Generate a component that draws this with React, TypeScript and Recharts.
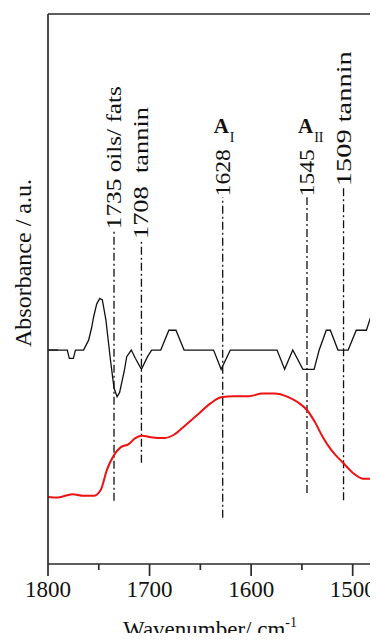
import React from "react";
import {
  LineChart, Line, XAxis, YAxis, ReferenceLine, ReferenceDot,
} from "recharts";

// Spectra (wavenumber cm-1, absorbance in a.u.)
const derivWn = [1800, 1781, 1779, 1775, 1773, 1765, 1760, 1757, 1755, 1752, 1749, 1746.5, 1743, 1738.5, 1735, 1732, 1729.5, 1725, 1722.5, 1718, 1714, 1708, 1702, 1698, 1689, 1681, 1674, 1666, 1637, 1629.5, 1620.5, 1574.5, 1567, 1559, 1549, 1538, 1533, 1526, 1522, 1514.5, 1504.5, 1496.5, 1486.5, 1480];
const derivAbs = [38.9, 38.9, 37.4, 37.4, 38.9, 38.9, 40.7, 43.0, 45.0, 47.3, 48.3, 48.0, 44.4, 37.1, 32.0, 30.4, 31.2, 35.0, 37.7, 38.9, 37.4, 35.4, 37.7, 38.9, 38.9, 42.5, 42.5, 38.9, 38.9, 35.4, 38.9, 38.9, 35.4, 38.9, 35.4, 35.4, 38.9, 42.5, 42.5, 38.9, 38.9, 42.5, 42.5, 46.2];

const specWn = [1800, 1790, 1776, 1765, 1755, 1748, 1742, 1735, 1728.5, 1720.5, 1714, 1707, 1697, 1686, 1676, 1666, 1653, 1640, 1629.5, 1617, 1602, 1589, 1577, 1564, 1554, 1545, 1537.5, 1529.5, 1521, 1509.5, 1500, 1490, 1480];
const specAbs = [12.2, 12.1, 12.7, 12.4, 12.4, 13.5, 17.1, 19.8, 21.2, 21.8, 22.9, 23.3, 23.0, 22.9, 23.5, 25.0, 27.1, 29.2, 30.3, 30.5, 30.5, 31.0, 31.0, 30.4, 29.4, 28.0, 25.9, 23.1, 20.7, 18.4, 16.6, 15.5, 15.5];

// Band markers
const markerWn = [1735, 1708, 1628, 1545, 1509];
const markerTop = [60.7, 58.9, 66.7, 66.7, 68.5];
const markerBottom = [11.5, 18.4, 8.4, 12.9, 11.6];
const markerText = ["1735 oils/ fats", "1708  tannin", "1628", "1545", "1509 tannin"];
const amideWn = [1628, 1545];
const amideSub = ["I", "II"];

const xDomain = [1480, 1800];
const yDomain = [0, 100];
const xTicks = [1800, 1750, 1700, 1650, 1600, 1550, 1500];
const majorTicks = [1800, 1700, 1600, 1500];
const yTicks = [38.9];

// rendered length (px) of the rotated band labels
const labelLen = [143, 132, 47, 47, 135];

const deriv = derivWn.map((w, i) => ({ w, a: derivAbs[i] }));
const spec = specWn.map((w, i) => ({ w, a: specAbs[i] }));
// top + right edges of the plot box
const frame = [
  { w: xDomain[1], a: yDomain[1] },
  { w: xDomain[0], a: yDomain[1] },
  { w: xDomain[0], a: yDomain[0] },
];

const FONT = "Liberation Serif, Times New Roman, serif";
const AXIS = "#2a2a2a";

function XTick(p: any) {
  const { x, y, payload } = p;
  const major = majorTicks.includes(payload.value);
  return (
    <g>
      <line x1={x} x2={x} y1={y} y2={y + (major ? 12 : 6)} stroke={AXIS} strokeWidth={1.7} />
      {major && (
        <text x={x} y={y + 33} textAnchor="middle" style={{ fontFamily: FONT }} fontSize={23} fill="#111">
          {payload.value}
        </text>
      )}
    </g>
  );
}

function YTick(p: any) {
  const { x, y } = p;
  return <line x1={x} x2={x + 10} y1={y} y2={y} stroke={AXIS} strokeWidth={1.7} />;
}

function markerLabel(i: number) {
  return (p: any) => {
    const { cx, cy } = p;
    return (
      <g transform={`translate(${cx},${cy - 1}) rotate(-90)`}>
        <text x={0} y={0} dy={7} style={{ fontFamily: FONT, whiteSpace: "pre" }} fontSize={21} fill="#111"
          textLength={labelLen[i]} lengthAdjust="spacingAndGlyphs">
          {markerText[i]}
        </text>
      </g>
    );
  };
}

function amideLabel(sub: string) {
  return (p: any) => {
    const { cx, cy } = p;
    return (
      <text x={cx - 9} y={cy - 64} style={{ fontFamily: FONT }} fontSize={21} fontWeight="bold" fill="#111">
        A
        <tspan dx={1} dy={9} fontSize={14} fontWeight="normal">{sub}</tspan>
      </text>
    );
  };
}

export default function App() {
  return (
    <div style={{ margin: -8, background: "#fff", width: 378, height: 641 }}>
      <LineChart width={378} height={641} margin={{ top: 14, right: 5, bottom: 0, left: 0 }}>
        <XAxis
          type="number" dataKey="w" domain={xDomain} reversed allowDataOverflow
          ticks={xTicks} interval={0} tick={<XTick />} tickLine={false} tickSize={0} tickMargin={0}
          height={77} axisLine={{ stroke: AXIS, strokeWidth: 1.7 }}
          label={{
            content: () => (
              <text x={210} y={637} textAnchor="middle"
                style={{ fontFamily: FONT }} fontSize={23} fill="#111">
                Wavenumber/ cm<tspan dy={-10} fontSize={14}>-1</tspan>
              </text>
            ),
          }}
        />
        <YAxis
          type="number" domain={yDomain} allowDataOverflow width={48}
          ticks={yTicks} tick={<YTick />} tickLine={false} tickSize={0} tickMargin={0}
          axisLine={{ stroke: AXIS, strokeWidth: 1.7 }}
          label={{
            content: () => (
              <text x={31} y={263} textAnchor="middle" transform="rotate(-90,31,263)"
                style={{ fontFamily: FONT }} fontSize={24} fill="#111">
                Absorbance / a.u.
              </text>
            ),
          }}
        />
        {/* unclipped axes for the box frame */}
        <XAxis xAxisId="f" type="number" dataKey="w" domain={xDomain} reversed hide />
        <YAxis yAxisId="f" type="number" domain={yDomain} hide />

        {markerWn.map((w, i) => (
          <ReferenceLine key={"m" + w}
            segment={[{ x: w, y: markerBottom[i] }, { x: w, y: markerTop[i] }]}
            stroke="#111" strokeWidth={1.3} strokeDasharray="8 3 2 3" ifOverflow="visible" />
        ))}
        {markerWn.map((w, i) => (
          <ReferenceDot key={"t" + w} x={w} y={markerTop[i]} r={0} ifOverflow="visible"
            shape={markerLabel(i)} />
        ))}
        {amideWn.map((w, i) => (
          <ReferenceDot key={"a" + w} x={w} y={markerTop[2 + i]} r={0} ifOverflow="visible"
            shape={amideLabel(amideSub[i])} />
        ))}

        <Line xAxisId="f" yAxisId="f" data={frame} dataKey="a" type="linear" stroke={AXIS}
          strokeWidth={1.7} dot={false} isAnimationActive={false} />
        <Line data={deriv} dataKey="a" type="linear" stroke="#111" strokeWidth={1.3}
          dot={false} isAnimationActive={false} />
        <Line data={spec} dataKey="a" type="monotone" stroke="#ee1111" strokeWidth={2}
          dot={false} isAnimationActive={false} />
      </LineChart>
    </div>
  );
}
